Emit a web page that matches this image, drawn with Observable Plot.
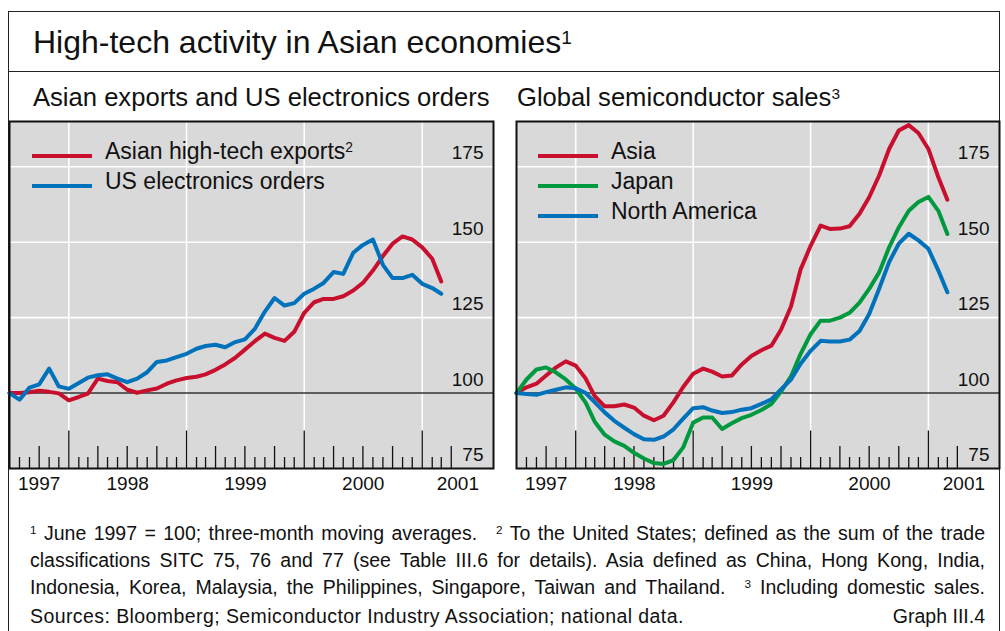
<!DOCTYPE html>
<html><head><meta charset="utf-8">
<script src="https://cdn.jsdelivr.net/npm/d3@7"></script>
<script src="https://cdn.jsdelivr.net/npm/@observablehq/plot@0.6"></script>
<style>
html,body{margin:0;padding:0;background:#fff;}
body{width:1005px;height:631px;position:relative;overflow:hidden;font-family:"Liberation Sans",Arial,sans-serif;color:#111;}
#outer{position:absolute;left:8px;top:11px;width:992px;height:700px;border:1px solid #222;box-sizing:border-box;}
#sep{position:absolute;left:8px;top:71px;width:992px;height:1px;background:#222;}
.t{position:absolute;white-space:nowrap;}
#title{left:33px;top:26.2px;font-size:32px;line-height:32px;}
.sub{top:85px;font-size:25.6px;line-height:25.6px;}
.leg{font-size:23px;line-height:23px;}
.sw{position:absolute;height:4.5px;width:60px;}
.panel{position:absolute;top:120px;}
.sup{font-size:0.6em;vertical-align:0.48em;line-height:0;}
.fn{position:absolute;left:30px;width:955px;font-size:19.5px;line-height:19.5px;text-align:justify;text-align-last:justify;white-space:normal;}
.gap{display:inline-block;width:19px;}
.src{display:flex;justify-content:space-between;text-align:left;text-align-last:auto;}
.src span:first-child{letter-spacing:0.42px;}
</style></head>
<body>
<div id="outer"></div>
<div id="sep"></div>
<div class="t" id="title">High-tech activity in Asian economies<span class="sup">1</span></div>
<div class="t sub" style="left:33px">Asian exports and US electronics orders</div>
<div class="t sub" style="left:517px">Global semiconductor sales<span class="sup">3</span></div>
<div id="left" class="panel" style="left:8px"></div>
<div id="right" class="panel" style="left:515px"></div>
<div id="legends"></div>
<div class="fn" style="top:523.5px"><span class="sup">1</span> June 1997 = 100; three-month moving averages.<span class="gap"></span><span class="sup">2</span> To the United States; defined as the sum of the trade</div>
<div class="fn" style="top:550.5px">classifications SITC 75, 76 and 77 (see Table III.6 for details). Asia defined as China, Hong Kong, India,</div>
<div class="fn" style="top:577.5px">Indonesia, Korea, Malaysia, the Philippines, Singapore, Taiwan and Thailand.<span class="gap"></span><span class="sup">3</span> Including domestic sales.</div>
<div class="fn src" style="top:607px"><span>Sources: Bloomberg; Semiconductor Industry Association; national data.</span><span>Graph III.4</span></div>
<script>
// Monthly data, June 1997 = 100 (three-month moving averages), June 1997 – February 2001
const firstMonth = "1997-06";
const lastMonth = "2001-02";
const asianExports = [100,100,100.3,100.8,100.4,99.9,97.6,98.7,99.8,104.8,104,103.6,101.1,100.1,100.9,101.5,103.1,104.2,105,105.4,106.2,107.7,109.5,111.7,114.4,117.2,119.7,118.3,117.3,120.3,126.6,130.1,131.2,131.2,132.1,134,136.5,140.6,145.4,149.5,151.9,150.9,148.3,144.5,137];
const usOrders = [100,97.8,101.8,102.9,108.1,102.2,101.4,103.3,105.1,105.9,106.2,104.8,103.6,104.8,106.9,110.3,110.8,111.9,113,114.7,115.6,116,115.2,116.9,117.8,121.3,127,131.5,129,129.8,132.9,134.6,136.5,140.1,139.5,146.5,149.1,150.9,142.5,138.1,138.1,139.2,136.2,134.8,132.9];
const asiaSales = [100,101.9,103.1,105.8,108.5,110.5,109.1,104.8,99,95.6,95.6,96.2,95.2,92.5,91,92.5,97,102,106.4,108.1,107.1,105.5,105.8,109.5,112.3,114.2,115.7,121,128.7,141,148.8,155.5,154.4,154.5,155.3,159.4,164.9,172.1,180.9,187,188.8,186.2,180.9,171.5,164.1];
const japanSales = [100,104.5,107.8,108.5,106.8,104.5,101.5,96.8,90.5,86.2,84,82.5,80.2,78.3,76.8,76.5,77.8,82,90.2,91.9,91.9,88.1,90,91.7,92.8,94.4,96.4,100.5,105.5,113,119.5,124,124,125,126.6,130,134.5,140,148.3,154.9,160.4,163.3,165,160.4,152.7];
const northAmericaSales = [100,99.7,99.4,100.3,101.1,101.9,101.6,100,97,93.6,90.8,88.5,86.4,84.7,84.5,85.6,88,91.5,95,95.3,94.2,93.4,93.7,94.5,95,96.4,97.9,101.2,104.5,109.7,114,117.3,117.1,117.1,117.7,120.6,126.2,134.6,143.4,149.5,152.8,150.6,147.8,140.6,133.4];
const yTickValues = [75,100,125,150,175];
const yearLabels = ["1997","1998","1999","2000","2001"];
const leftSeries = ["Asian high-tech exports","US electronics orders"];
const leftNotes = ["2", ""];
const rightSeries = ["Asia","Japan","North America"];
const red = "#c8102e", blue = "#0071bb", green = "#00993f";

const parseMonth = d3.utcParse("%Y-%m");
const months = d3.utcMonth.range(parseMonth(firstMonth), d3.utcMonth.offset(parseMonth(lastMonth), 1));
// values are plotted at the end of each month
const monthEnd = d => d3.utcMonth.offset(d, 1);
const xStart = new Date(Date.UTC(1997,6,1));
const xEnd = new Date(Date.UTC(2001,7,10));
const tickMonths = d3.utcMonth.range(new Date(Date.UTC(1997,7,1)), new Date(Date.UTC(2001,4,1)));
const yearStarts = tickMonths.filter(d => d.getUTCMonth() === 0);
const quarterStarts = tickMonths.filter(d => d.getUTCMonth() % 3 === 0 && d.getUTCMonth() !== 0);
const otherMonths = tickMonths.filter(d => d.getUTCMonth() % 3 !== 0);
const yearLabelPos = yearLabels.map(y => {
  const a = new Date(Date.UTC(+y,0,1)), b = new Date(Date.UTC(+y + 1,0,1));
  const lo = Math.max(+a, +xStart), hi = Math.min(+b, +xEnd);
  return {label: y, date: new Date((lo + hi) / 2)};
});

function table(values, name) {
  return months.map((m, i) => ({date: monthEnd(m), value: values[i], series: name}));
}

const plotH = 347;
function panel(series, colors, width) {
  const data = series.flatMap(s => table(s.values, s.name));
  return Plot.plot({
    width: width + 2, height: plotH + 31,
    marginLeft: 1, marginRight: 1, marginTop: 1, marginBottom: 30,
    x: {type: "utc", domain: [xStart, xEnd], axis: null},
    y: {domain: [75, 190], axis: null},
    color: {domain: series.map(s => s.name), range: colors},
    style: {fontFamily: "Liberation Sans, Arial, sans-serif", fontSize: "19px", background: "transparent", overflow: "visible", color: "#111"},
    marks: [
      Plot.frame({fill: "#d9d9d9"}),
      Plot.ruleY([125,150,175], {stroke: "white", strokeWidth: 1.6}),
      Plot.ruleX(yearStarts, {stroke: "white", strokeWidth: 1.6}),
      Plot.ruleX(otherMonths, {stroke: "#111", strokeWidth: 1.3, insetTop: plotH - 11}),
      Plot.ruleX(quarterStarts, {stroke: "#111", strokeWidth: 1.3, insetTop: plotH - 22}),
      Plot.ruleX(yearStarts, {stroke: "#111", strokeWidth: 1.3, insetTop: plotH - 37.5}),
      Plot.ruleY([100], {stroke: "#333", strokeWidth: 1.6}),
      Plot.text(yTickValues, {y: d => d, text: d => String(d), frameAnchor: "right", textAnchor: "end", lineAnchor: "bottom", dx: -10, dy: -7.5, fill: "#111"}),
      Plot.text(yearLabelPos, {x: "date", text: "label", frameAnchor: "bottom", lineAnchor: "top", dy: 7.5, fill: "#111"}),
      Plot.line(data, {x: "date", y: "value", stroke: "series", z: "series", strokeWidth: 4, curve: "linear"}),
      Plot.frame({stroke: "#111", strokeWidth: 2})
    ]
  });
}

document.getElementById("left").appendChild(panel(
  [{name: leftSeries[0], values: asianExports}, {name: leftSeries[1], values: usOrders}], [red, blue], 484));
document.getElementById("right").appendChild(panel(
  [{name: rightSeries[0], values: asiaSales}, {name: rightSeries[1], values: japanSales}, {name: rightSeries[2], values: northAmericaSales}], [red, green, blue], 483));

// legends
const leg = document.getElementById("legends");
function addLegend(names, notes, colors, swLeft, textLeft) {
  names.forEach((n, i) => {
    const base = 159.5 + 30 * i;
    const sw = document.createElement("div");
    sw.className = "sw";
    sw.style.left = swLeft + "px";
    sw.style.top = (base - 3.6 - 2.25) + "px";
    sw.style.background = colors[i];
    leg.appendChild(sw);
    const t = document.createElement("div");
    t.className = "t leg";
    t.style.left = textLeft + "px";
    t.style.top = (base - 19.5) + "px";
    t.appendChild(document.createTextNode(n));
    if (notes[i]) {
      const s = document.createElement("span");
      s.className = "sup";
      s.textContent = notes[i];
      t.appendChild(s);
    }
    leg.appendChild(t);
  });
}
addLegend(leftSeries, leftNotes, [red, blue], 32, 105);
addLegend(rightSeries, ["", "", ""], [red, green, blue], 538, 611);
</script>
</body></html>
